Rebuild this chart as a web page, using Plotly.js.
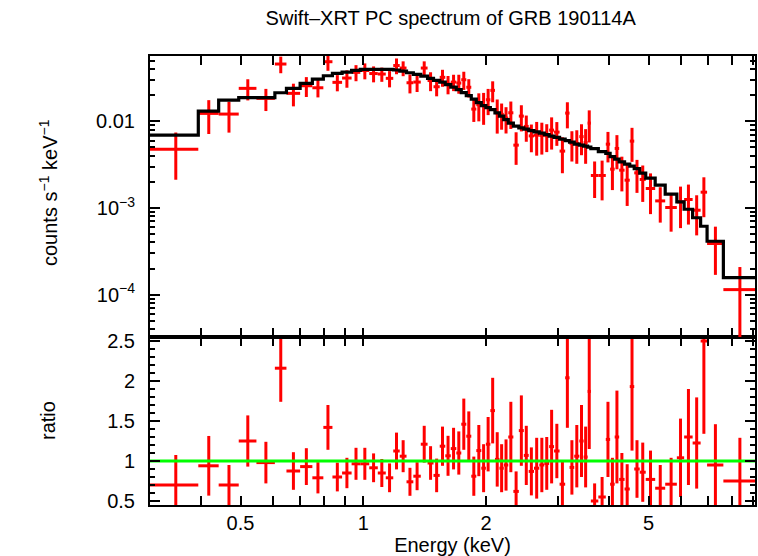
<!DOCTYPE html>
<html><head><meta charset="utf-8">
<script src="https://cdn.plot.ly/plotly-3.0.1.min.js"></script>
<style>html,body{margin:0;padding:0;background:#fff}#plot{width:758px;height:556px}</style>
</head><body><div id="plot"></div>
<script>
// Energy bin edges (keV)
const binEdges = [0.300,0.394,0.442,0.495,0.547,0.607,0.648,0.700,0.750,0.798,
  0.840,0.887,0.936,0.983,1.034,1.085,1.135,1.184,1.228,1.276,
  1.326,1.383,1.437,1.486,1.539,1.588,1.638,1.690,1.738,1.788,
  1.839,1.892,1.946,1.997,2.048,2.102,2.156,2.209,2.266,2.332,
  2.405,2.474,2.543,2.620,2.700,2.777,2.854,2.934,3.027,3.124,
  3.202,3.288,3.384,3.467,3.546,3.611,3.767,3.929,4.026,4.131,
  4.237,4.368,4.498,4.613,4.758,4.922,5.192,5.494,5.867,6.114,
  6.414,6.710,6.959,7.629,9.12];
// Data (counts s^-1 keV^-1)
const dataFlux = [0.00478,0.01237,0.01215,0.02407,0.01845,0.04596,0.02108,0.02580,0.02445,0.04887,
  0.02824,0.03167,0.03685,0.03867,0.03569,0.03522,0.03141,0.04416,0.04131,0.02794,
  0.02846,0.04131,0.02963,0.02512,0.03227,0.02699,0.02846,0.02772,0.03027,0.02479,
  0.01387,0.01555,0.01523,0.01777,0.02282,0.01257,0.01205,0.01092,0.01257,0.00532,
  0.01151,0.00875,0.00680,0.00694,0.00690,0.00685,0.00793,0.00752,0.00454,0.01247,
  0.00557,0.00557,0.00667,0.00569,0.00956,0.002375,0.002375,0.00546,0.00281,0.00487,
  0.002735,0.002096,0.00592,0.002545,0.002136,0.00168,0.001208,0.001013,0.001176,0.001254,
  0.000943,0.001523,0.000389,0.0001142];
const dataFluxErr = [0.00266,0.00522,0.00473,0.0066,0.00528,0.00997,0.00617,0.00666,0.00553,0.01048,
  0.00599,0.0072,0.00776,0.00808,0.00745,0.00658,0.00669,0.00913,0.00805,0.00689,
  0.00662,0.00805,0.0073,0.00564,0.00717,0.00645,0.0061,0.00684,0.00717,0.00592,
  0.00401,0.00554,0.0061,0.00595,0.0062,0.00534,0.00403,0.00367,0.00439,0.00217,
  0.00385,0.00293,0.0024,0.00292,0.00276,0.00243,0.0032,0.0023,0.00202,0.00416,
  0.00213,0.00233,0.0026,0.00245,0.00385,0.00107,0.00115,0.0021,0.0012,0.00207,
  0.00118,0.00104,0.00251,0.00105,0.00096,0.00083,0.00053,0.00048,0.00059,0.00061,
  0.00046,0.00074,0.00022,0.000094];
// Folded model (counts s^-1 keV^-1)
const modelFlux = [0.006944,0.01315,0.01763,0.01884,0.01884,0.02142,0.02407,0.02749,0.03083,0.03367,
  0.03589,0.03714,0.03887,0.03993,0.03993,0.03993,0.03993,0.03919,0.03815,0.03646,
  0.03494,0.0334,0.03141,0.02979,0.02846,0.02663,0.02491,0.02331,0.02153,0.01987,
  0.0181,0.01649,0.01523,0.01444,0.01369,0.01257,0.01151,0.01049,0.00956,0.00882,
  0.00843,0.00815,0.007825,0.00758,0.00732,0.00704,0.00676,0.00653,0.00624,0.0060,
  0.00576,0.00546,0.00532,0.00518,0.00505,0.00485,0.00448,0.00427,0.00392,0.00367,
  0.00341,0.00321,0.00304,0.00285,0.002525,0.002211,0.001835,0.001444,0.001176,0.000968,
  0.000772,0.000616,0.000413,0.000157];
// Data / model ratio
const ratio = [0.70,0.94,0.70,1.25,0.98,2.16,0.875,0.93,0.79,1.42,
  0.80,0.85,0.965,0.965,0.915,0.85,0.79,1.125,1.06,0.74,
  0.81,1.21,0.975,0.82,1.185,1.065,1.155,1.10,1.46,1.31,
  0.81,1.13,0.91,1.21,1.63,1.02,0.91,0.95,1.30,0.62,
  1.38,1.07,0.87,0.91,0.95,0.97,1.18,1.125,0.71,2.04,
  0.92,1.06,1.25,1.05,1.87,0.50,0.55,1.27,0.71,1.30,
  0.77,0.65,1.93,0.90,0.86,0.77,0.66,0.71,1.04,1.30,
  1.225,2.50,0.95,0.75];
const ratioErr = [0.375,0.373,0.25,0.32,0.26,0.42,0.235,0.23,0.195,0.28,
  0.18,0.19,0.20,0.20,0.18,0.175,0.18,0.23,0.20,0.175,
  0.175,0.23,0.21,0.21,0.245,0.25,0.26,0.27,0.32,0.31,
  0.245,0.32,0.30,0.34,0.41,0.34,0.30,0.32,0.44,0.25,
  0.44,0.37,0.30,0.38,0.34,0.33,0.46,0.34,0.28,0.625,
  0.34,0.39,0.45,0.38,0.72,0.22,0.25,0.47,0.33,0.58,
  0.33,0.31,0.80,0.36,0.37,0.36,0.29,0.33,0.49,0.60,
  0.57,1.16,0.51,0.54];
// Tick labels
const xTickVals = [0.5,1,2,5];
const xTickText = ['0.5','1','2','5'];
const xMinorVals = [0.3,0.4,0.6,0.7,0.8,0.9,3,4,6,7,8,9];
const yTopTickVals = [1e-4,1e-3,1e-2];
const yTopTickText = ['10<sup>−4</sup>','10<sup>−3</sup>','0.01'];
const yRatioTickVals = [0.5,1,1.5,2,2.5];
const yRatioTickText = ['0.5','1','1.5','2','2.5'];

const eMid = binEdges.slice(0,-1).map((lo,i)=>(lo+binEdges[i+1])/2);
const eHalf = binEdges.slice(0,-1).map((lo,i)=>(binEdges[i+1]-lo)/2);
const yTopMinor = [];
[1e-5,1e-4,1e-3,1e-2].forEach(d=>{for(let k=2;k<=9;k++) yTopMinor.push(k*d);});

const RED='#ff0000', FONT='Liberation Sans, Arial, Helvetica, sans-serif';
const errStyle = {type:'data', color:RED, thickness:3, width:0};

const traces = [
  {x:eMid, y:dataFlux, xaxis:'x2', yaxis:'y2', mode:'markers', marker:{size:1,color:'rgba(0,0,0,0)'},
   error_x:Object.assign({array:eHalf}, errStyle), error_y:Object.assign({array:dataFluxErr}, errStyle), hoverinfo:'skip'},
  {x:binEdges, y:modelFlux.concat([modelFlux[modelFlux.length-1]]), xaxis:'x2', yaxis:'y2', mode:'lines',
   line:{shape:'hv', color:'#000', width:3.2}, hoverinfo:'skip'},
  {x:eMid, y:ratio, xaxis:'x', yaxis:'y', mode:'markers', marker:{size:1,color:'rgba(0,0,0,0)'},
   error_x:Object.assign({array:eHalf}, errStyle), error_y:Object.assign({array:ratioErr}, errStyle), hoverinfo:'skip'},
  {x:[binEdges[0], binEdges[binEdges.length-1]], y:[1,1], xaxis:'x', yaxis:'y', mode:'lines',
   line:{color:'#00ff00', width:3.2}, hoverinfo:'skip'}
];

const common = {showline:true, linecolor:'#000', linewidth:2, mirror:'allticks', ticks:'inside',
  tickcolor:'#000', tickwidth:2, showgrid:false, zeroline:false, tickfont:{family:FONT, size:20, color:'#000'}};
const split = 168/449;
const xr = [Math.log10(binEdges[0]), Math.log10(binEdges[binEdges.length-1])];
const xMinor = {tickmode:'array', tickvals:xMinorVals, ticklen:9, tickwidth:2, tickcolor:'#000', ticks:'inside', showgrid:false};

const layout = {
  width:758, height:556, margin:{l:150, r:3, t:56, b:51}, paper_bgcolor:'#fff', plot_bgcolor:'#fff',
  showlegend:false, font:{family:FONT, size:20, color:'#000'},
  title:{text:'Swift–XRT PC spectrum of GRB 190114A', font:{family:FONT, size:20, color:'#000'},
    xref:'paper', x:0.497, xanchor:'center', yref:'container', y:1-17.5/556, yanchor:'middle'},
  xaxis:Object.assign({}, common, {type:'log', range:xr, domain:[0,1], anchor:'y', tickmode:'array',
    tickvals:xTickVals, ticktext:xTickText, ticklen:9, minor:xMinor, ticklabelstandoff:-1,
    title:{text:'Energy (keV)', font:{family:FONT, size:20, color:'#000'}, standoff:0}}),
  xaxis2:Object.assign({}, common, {type:'log', range:xr, domain:[0,1], anchor:'y2', matches:'x', tickmode:'array',
    tickvals:xTickVals, ticktext:xTickText, ticklen:9, minor:xMinor, showticklabels:false}),
  yaxis:Object.assign({}, common, {domain:[0, split], range:[0.45, 2.55], anchor:'x', tickmode:'array',
    tickvals:yRatioTickVals, ticktext:yRatioTickText, ticklen:10, ticklabelstandoff:9,
    minor:{tickmode:'linear', tick0:0, dtick:0.1, ticklen:5, tickwidth:2, tickcolor:'#000', ticks:'inside', showgrid:false}}),
  yaxis2:Object.assign({}, common, {type:'log', domain:[split, 1], range:[Math.log10(3.24e-5), Math.log10(0.0569)],
    anchor:'x2', tickmode:'array', tickvals:yTopTickVals, ticktext:yTopTickText, ticklen:10, ticklabelstandoff:9,
    minor:{tickmode:'array', tickvals:yTopMinor, ticklen:5, tickwidth:2, tickcolor:'#000', ticks:'inside', showgrid:false}}),
  annotations:[
    {text:'counts s<sup>−1</sup> keV<sup>−1</sup>', xref:'paper', yref:'paper', x:(48-150)/605, y:(505-193)/449,
     xanchor:'center', yanchor:'middle', textangle:-90, showarrow:false, font:{family:FONT, size:20, color:'#000'}},
    {text:'ratio', xref:'paper', yref:'paper', x:(48-150)/605, y:(505-421)/449,
     xanchor:'center', yanchor:'middle', textangle:-90, showarrow:false, font:{family:FONT, size:20, color:'#000'}}
  ]
};
Plotly.newPlot('plot', traces, layout, {displayModeBar:false, staticPlot:true});
</script></body></html>
